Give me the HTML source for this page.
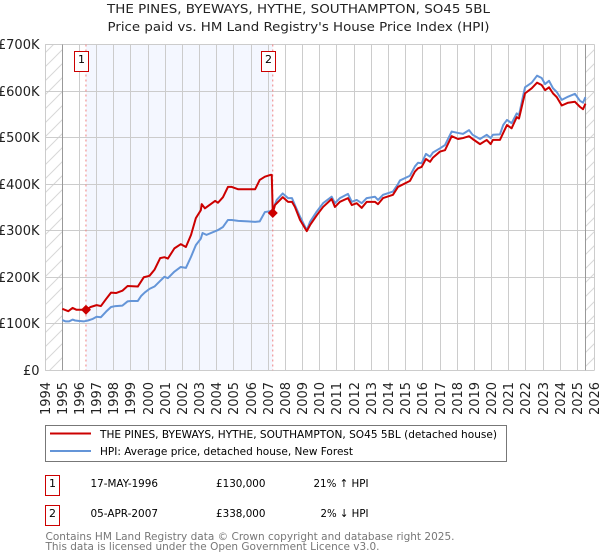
<!DOCTYPE html>
<html>
<head>
<meta charset="utf-8">
<title>THE PINES, BYEWAYS, HYTHE price chart</title>
<style>
html,body{margin:0;padding:0;background:#fff;width:600px;height:560px;overflow:hidden}
svg{display:block;font-family:"DejaVu Sans","Liberation Sans",sans-serif}
</style>
</head>
<body>
<svg id="chart" xmlns="http://www.w3.org/2000/svg" width="600" height="560" viewBox="0 0 600 560">
<defs>
<pattern id="hatch" patternUnits="userSpaceOnUse" width="14" height="14">
<path d="M-1 15L15 -1M-8 8L8 -8M6 22L22 6" stroke="#d8d8d8" stroke-width="1" fill="none"/>
</pattern>
</defs>
<g id="plot"></g>
<text x="298.5" y="13" text-anchor="middle" font-size="12" textLength="383" lengthAdjust="spacingAndGlyphs" fill="#222">THE PINES, BYEWAYS, HYTHE, SOUTHAMPTON, SO45 5BL</text>
<text x="298.5" y="31" text-anchor="middle" font-size="12" textLength="382" lengthAdjust="spacingAndGlyphs" fill="#222">Price paid vs. HM Land Registry's House Price Index (HPI)</text>

<g>
<rect x="45.5" y="425.5" width="461" height="36" fill="#fff" stroke="#777" stroke-width="1"/>
<line x1="50" x2="91" y1="433.5" y2="433.5" stroke="#cc0000" stroke-width="2"/>
<text x="100" y="438" font-size="11" textLength="397" lengthAdjust="spacingAndGlyphs" fill="#000">THE PINES, BYEWAYS, HYTHE, SOUTHAMPTON, SO45 5BL (detached house)</text>
<line x1="50" x2="91" y1="451" y2="451" stroke="#6495d8" stroke-width="2"/>
<text x="100" y="455" font-size="11" textLength="253" lengthAdjust="spacingAndGlyphs" fill="#000">HPI: Average price, detached house, New Forest</text>
</g>

<g>
<rect x="45.5" y="475.5" width="14" height="20" fill="#fff" stroke="#cc0000" stroke-width="1"/>
<text x="52.5" y="487" text-anchor="middle" font-size="11" fill="#000">1</text>
<text x="90.5" y="487" font-size="11" textLength="67.5" lengthAdjust="spacingAndGlyphs" fill="#000">17-MAY-1996</text>
<text x="216" y="487" font-size="11" textLength="49.5" lengthAdjust="spacingAndGlyphs" fill="#000">£130,000</text>
<text x="313.5" y="487" font-size="11" textLength="55" lengthAdjust="spacingAndGlyphs" fill="#000">21% ↑ HPI</text>
</g>
<g>
<rect x="45.5" y="505.5" width="14" height="20" fill="#fff" stroke="#cc0000" stroke-width="1"/>
<text x="52.5" y="517" text-anchor="middle" font-size="11" fill="#000">2</text>
<text x="90.5" y="517" font-size="11" textLength="67.5" lengthAdjust="spacingAndGlyphs" fill="#000">05-APR-2007</text>
<text x="216" y="517" font-size="11" textLength="49.5" lengthAdjust="spacingAndGlyphs" fill="#000">£338,000</text>
<text x="320.5" y="517" font-size="11" textLength="48" lengthAdjust="spacingAndGlyphs" fill="#000">2% ↓ HPI</text>
</g>
<text x="45.5" y="540" font-size="11" textLength="409" lengthAdjust="spacingAndGlyphs" fill="#777">Contains HM Land Registry data © Crown copyright and database right 2025.</text>
<text x="45.5" y="550" font-size="11" textLength="334" lengthAdjust="spacingAndGlyphs" fill="#777">This data is licensed under the Open Government Licence v3.0.</text>
</svg>
<script>
const yearTicks = [1994,1995,1996,1997,1998,1999,2000,2001,2002,2003,2004,2005,2006,2007,2008,2009,2010,2011,2012,2013,2014,2015,2016,2017,2018,2019,2020,2021,2022,2023,2024,2025,2026];
const valueTicks = [0,100,200,300,400,500,600,700];
const valueTickLabels = ['£0','£100K','£200K','£300K','£400K','£500K','£600K','£700K'];
const dataStartYear = 1995.0;
const dataEndYear = 2025.47;
const saleLabels = ['1','2'];
const saleYears = [1996.38,2007.26];
const saleValues = [130,338];
const hpiYears = [1995,1995.2,1995.4,1995.6,1995.75,1996,1996.25,1996.5,1996.75,1997,1997.25,1997.55,1997.84,1998.1,1998.5,1998.8,1999,1999.4,1999.6,1999.8,2000.08,2000.37,2000.7,2000.95,2001.15,2001.53,2001.9,2002.2,2002.5,2002.78,2003.07,2003.17,2003.4,2004.05,2004.36,2004.65,2004.87,2005.25,2005.82,2006.23,2006.5,2006.8,2007.14,2007.26,2007.49,2007.84,2008.15,2008.38,2008.55,2008.85,2009.24,2009.43,2009.82,2010.19,2010.69,2010.88,2011.17,2011.64,2011.86,2012.15,2012.44,2012.73,2013.21,2013.39,2013.68,2014.26,2014.55,2014.67,2015.25,2015.54,2015.72,2015.93,2016.18,2016.42,2016.59,2017,2017.29,2017.68,2018.05,2018.34,2018.69,2018.9,2019.33,2019.72,2019.95,2020.08,2020.49,2020.68,2020.9,2021.17,2021.47,2021.6,2021.83,2021.95,2022.34,2022.65,2022.92,2023.12,2023.35,2023.58,2023.8,2024.09,2024.46,2024.86,2025.15,2025.33,2025.47];
const hpiValues = [108,105,105,109,107,106,105,107,110,115,114,126,136,138,139,148,149,149,160,167,175,180,192,201,198,212,222,220,244,269,283,295,291,301,308,323,323,321,320,319,320,340,342,345,366,380,370,370,355,330,301,319,341,359,373,359,370,379,362,366,359,370,373,366,377,384,400,408,418,438,446,445,465,459,468,477,484,513,510,508,516,506,497,506,499,506,507,527,538,531,552,548,588,608,618,633,628,615,622,606,598,581,588,594,579,575,587];
const priceYears = [1995,1995.35,1995.6,1995.83,1996.38,1996.65,1997,1997.25,1997.55,1997.84,1998.13,1998.5,1998.8,1999.4,1999.75,2000.08,2000.37,2000.7,2000.95,2001.15,2001.53,2001.9,2002.2,2002.5,2002.78,2003.07,2003.12,2003.31,2003.9,2004.07,2004.36,2004.65,2004.87,2005.25,2005.82,2006.23,2006.5,2006.8,2007.14,2007.2,2007.26,2007.39,2007.84,2008.15,2008.38,2008.55,2008.85,2009.24,2009.43,2009.82,2010.19,2010.69,2010.88,2011.17,2011.64,2011.86,2012.15,2012.44,2012.73,2013.21,2013.39,2013.68,2014.26,2014.55,2015.25,2015.54,2015.72,2015.93,2016.18,2016.42,2016.59,2017,2017.29,2017.68,2018.05,2018.34,2018.69,2018.9,2019.33,2019.72,2019.95,2020.08,2020.49,2020.68,2020.9,2021.17,2021.47,2021.6,2021.83,2021.95,2022.34,2022.65,2022.92,2023.12,2023.35,2023.58,2023.8,2024.09,2024.46,2024.86,2025.15,2025.33,2025.47];
const priceValues = [132,127,134,130,130,136,140,138,153,167,166,171,181,180,200,203,216,241,243,240,262,271,265,291,327,344,357,348,364,360,372,394,394,389,389,389,409,416,420,420,338,355,372,362,362,351,323,299,312,333,351,368,351,362,370,355,359,349,362,362,357,370,377,394,407,427,434,437,454,448,457,470,473,503,497,499,503,497,486,495,486,495,495,510,527,520,544,541,577,595,606,618,613,602,608,595,587,569,575,577,566,561,573];

const NS = 'http://www.w3.org/2000/svg';
const plot = document.getElementById('plot');
const xScale = year => 45.1 + (year - 1994) * 17.17;
const yScale = value => 370.3 - value * 0.4654;
const crisp = p => Math.floor(p) + 0.5;
const plotLeft = xScale(yearTicks[0]);
const plotRight = xScale(yearTicks[yearTicks.length - 1]);
const plotTop = yScale(valueTicks[valueTicks.length - 1]);
const plotBottom = yScale(valueTicks[0]);

function make(tag, attrs, parent) {
  const el = document.createElementNS(NS, tag);
  for (const k in attrs) el.setAttribute(k, attrs[k]);
  (parent || plot).appendChild(el);
  return el;
}

let el;
el = make('rect', {x: plotLeft, y: plotTop, width: xScale(dataStartYear) - plotLeft, height: plotBottom - plotTop, fill: 'url(#hatch)'});


el = make('rect', {x: xScale(dataEndYear), y: plotTop, width: plotRight - xScale(dataEndYear), height: plotBottom - plotTop, fill: 'url(#hatch)'});


el = make('rect', {x: xScale(saleYears[0]), y: plotTop, width: xScale(saleYears[1]) - xScale(saleYears[0]), height: plotBottom - plotTop, fill: '#f4f7ff'});



yearTicks.forEach(year => {
  const x = crisp(xScale(year));
  const line = make('line', {x1: x, x2: x, y1: plotTop, y2: plotBottom, stroke: '#ccc', 'stroke-width': 1});
  
  
  const label = make('text', {transform: 'translate(' + (x + 4.5) + ',415) rotate(-90)', 'font-size': 13, fill: '#222', textLength: 33, lengthAdjust: 'spacingAndGlyphs'});
  label.textContent = year;
  
  
});

valueTicks.forEach((value, i) => {
  const y = crisp(yScale(value));
  const line = make('line', {x1: plotLeft, x2: plotRight, y1: y, y2: y, stroke: '#ccc', 'stroke-width': 1});
  
  
  const label = make('text', {x: 39.5, y: y + 4.5, 'text-anchor': 'end', 'font-size': 13, fill: '#222'});
  label.textContent = valueTickLabels[i];
  
  
});

[dataStartYear, dataEndYear].forEach(year => {
  const x = crisp(xScale(year));
  const line = make('line', {x1: x, x2: x, y1: plotTop, y2: plotBottom, stroke: '#999', 'stroke-width': 1});
  
  
});

saleYears.forEach(year => {
  const x = xScale(year);
  const line = make('line', {x1: x, x2: x, y1: plotTop, y2: plotBottom, stroke: '#f08080', 'stroke-width': 1, 'stroke-dasharray': '2 3'});
  
  
});

function pathFrom(years, values) {
  return years.map((year, i) => (i ? 'L' : 'M') + xScale(year).toFixed(2) + ' ' + yScale(values[i]).toFixed(2)).join('');
}
el = make('path', {d: pathFrom(hpiYears, hpiValues), fill: 'none', stroke: '#6495d8', 'stroke-width': 2, 'stroke-linejoin': 'round'});


el = make('path', {d: pathFrom(priceYears, priceValues), fill: 'none', stroke: '#cc0000', 'stroke-width': 2, 'stroke-linejoin': 'round'});



saleYears.forEach((year, i) => {
  const x = xScale(year);
  const y = yScale(saleValues[i]);
  const marker = make('path', {d: 'M' + (x - 5) + ' ' + y + 'L' + x + ' ' + (y - 5) + 'L' + (x + 5) + ' ' + y + 'L' + x + ' ' + (y + 5) + 'Z', fill: '#cc0000'});
  
  
  const box = make('rect', {x: crisp(x - 11), y: 51.5, width: 14, height: 20, fill: '#fff', stroke: '#cc0000', 'stroke-width': 1});
  
  
  const label = make('text', {x: crisp(x - 11) + 7, y: 63, 'text-anchor': 'middle', 'font-size': 11, fill: '#000'});
  label.textContent = saleLabels[i];
  
  
});
</script>
</body>
</html>
